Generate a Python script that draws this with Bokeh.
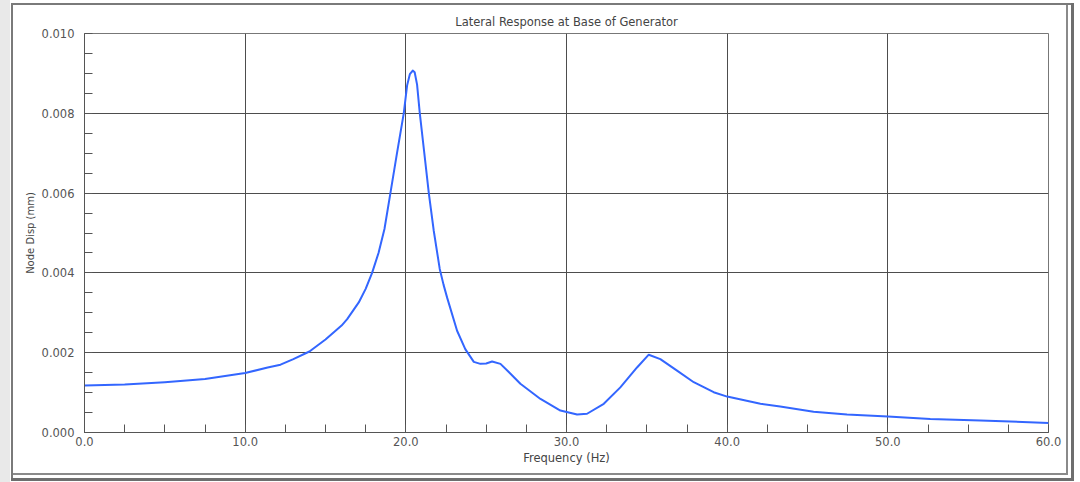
from bokeh.plotting import figure
from bokeh.models import SingleIntervalTicker, Range1d, PrintfTickFormatter
from bokeh.embed import file_html
from bokeh.resources import INLINE

title_text = "Lateral Response at Base of Generator"
x_label = "Frequency (Hz)"
y_label = "Node Disp (mm)"

freq_hz = [0.0, 2.5, 5.0, 7.5, 10.0, 11.4, 12.2, 13.0, 14.0, 15.0, 16.0, 16.35,
           17.07, 17.5, 17.9, 18.3, 18.67, 19.04, 19.45, 19.87, 20.08, 20.25, 20.43,
           20.55, 20.7, 20.87, 21.15, 21.43, 21.74, 22.11, 22.35, 22.57, 23.19, 23.7,
           24.23, 24.64, 25.0, 25.37, 25.89, 26.5, 27.13, 28.38, 29.62, 30.66,
           31.28, 32.32, 33.35, 34.39, 35.12, 35.84, 36.88, 37.92, 39.16, 40.0,
           42.07, 43.3, 45.38, 47.46, 50.0, 52.64, 55.76, 60.0]
disp_mm = [0.00118, 0.00120, 0.00126, 0.00134, 0.00149, 0.00163, 0.00170, 0.00184,
           0.00203, 0.00233, 0.00268, 0.00284, 0.00326, 0.00360, 0.00400, 0.00450,
           0.00510, 0.00600, 0.00700, 0.00800, 0.00870, 0.00898, 0.00907, 0.00903,
           0.00872, 0.00800, 0.00700, 0.00600, 0.00505, 0.00410, 0.00370, 0.00338,
           0.00255, 0.00209, 0.00177, 0.00172, 0.00173, 0.00178, 0.00172, 0.00148,
           0.00122, 0.00084, 0.00055, 0.00045, 0.00047, 0.00072, 0.00113, 0.00163,
           0.00195, 0.00184, 0.00155, 0.00126, 0.00101, 0.00090, 0.00072, 0.00065,
           0.00052, 0.00045, 0.00040, 0.00034, 0.00030, 0.00024]

x_min, x_max, x_step = 0.0, 60.0, 10.0
y_min, y_max, y_step = 0.0, 0.010, 0.002

FONT = "DejaVu Sans"
TXT = "#555555"

# window frame drawn behind a transparent canvas border
frame_layers = [
    ("#e9e9e9", 0, 0, 10, 482),
    ("#7a7a7a", 11, 3, 2, 475),
    ("#7a7a7a", 11, 3, 1060, 2),
    ("#8a8a8a", 1066, 3, 2, 472),
    ("#6e6e6e", 1071, 3, 3, 478),
    ("#8a8a8a", 11, 473, 1057, 2),
    ("#6e6e6e", 11, 478, 1063, 3),
]
bg = ", ".join(f"linear-gradient({c},{c}) {x}px {y}px / {w}px {h}px no-repeat"
               for c, x, y, w, h in frame_layers) + ", white"

p = figure(width=1080, height=482, output_backend="svg", toolbar_location=None,
           x_range=Range1d(x_min, x_max), y_range=Range1d(y_min, y_max),
           min_border_left=84, min_border_right=32, min_border_top=33,
           min_border_bottom=50)
p.styles = {"background": bg}
p.title.text = title_text
p.title.align = "center"
p.title.text_font = FONT
p.title.text_font_size = "11.5px"
p.title.text_font_style = "normal"
p.title.text_color = "#444444"
p.title.offset = 0
p.title.standoff = 9

p.background_fill_color = "white"
p.border_fill_alpha = 0
p.outline_line_color = "#777777"
p.outline_line_width = 1

for ax, step in ((p.xaxis[0], x_step), (p.yaxis[0], y_step)):
    ax.ticker = SingleIntervalTicker(interval=step, num_minor_ticks=4)
    ax.axis_line_color = "#555555"
    ax.major_tick_line_color = "#555555"
    ax.major_tick_in = 0
    ax.major_tick_out = 0
    ax.minor_tick_line_color = "#555555"
    ax.minor_tick_in = 8
    ax.minor_tick_out = 0
    ax.major_label_text_font = FONT
    ax.major_label_text_font_size = "11.5px"
    ax.major_label_text_color = TXT
    ax.axis_label_text_font = FONT
    ax.axis_label_text_font_style = "normal"
    ax.axis_label_text_color = "#444444"

p.xaxis.axis_label_text_font_size = "11.5px"
p.yaxis.axis_label_text_font_size = "10px"
p.xaxis.formatter = PrintfTickFormatter(format="%.1f")
p.yaxis.formatter = PrintfTickFormatter(format="%.3f")
p.xaxis.axis_label = x_label
p.yaxis.axis_label = y_label
p.xaxis.major_label_standoff = 4
p.yaxis.major_label_standoff = 10
p.xaxis.axis_label_standoff = 2
p.yaxis.axis_label_standoff = 3

p.xgrid.ticker = p.xaxis[0].ticker
p.ygrid.ticker = p.yaxis[0].ticker
p.grid.grid_line_color = "#4d4d4d"
p.grid.grid_line_width = 1
p.grid.grid_line_alpha = 1.0

p.line(freq_hz, disp_mm, line_color="#3366ff", line_width=2, line_join="round")

open("out.html", "w").write(file_html(p, INLINE))
